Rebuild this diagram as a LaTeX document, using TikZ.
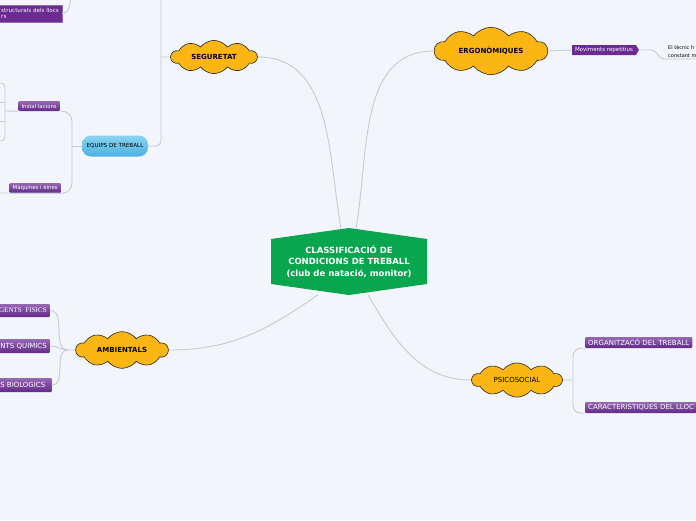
\documentclass[tikz,border=0pt]{standalone}
\usepackage{fontspec}
\setmainfont{DejaVu Sans}
\newfontfamily\agentserif{Liberation Serif}
\usetikzlibrary{arrows.meta,positioning,calc,shapes.geometric,shapes.symbols,shapes.arrows}
\definecolor{Paper}{HTML}{F3F5FD}
\definecolor{Wire}{HTML}{C6CAD4}
\definecolor{Leaf}{HTML}{0AA54F}
\definecolor{Gold}{HTML}{FCB614}
\definecolor{PurpleDk}{HTML}{62298A}
\definecolor{PurpleLt}{HTML}{9668B4}
\definecolor{Plum}{HTML}{6A2C91}
\definecolor{SkyLt}{HTML}{8DD3F1}
\definecolor{SkyDk}{HTML}{49B3E0}

\begin{document}
\begin{tikzpicture}[x=1pt, y=-1pt,
  hub/.style={text=white, minimum width=156pt, minimum height=66pt, inner sep=0pt,
              align=center, font=\fontsize{8.5}{11.5}\selectfont\bfseries},
  topic/.style={cloud, cloud puffs=10, cloud puff arc=105, aspect=2.6,
                fill=Gold, draw=black!85, line width=0.6pt, inner sep=0pt,
                font=\fontsize{7}{8}\selectfont\bfseries},
  equip/.style={rounded corners=9pt, top color=SkyLt, bottom color=SkyDk,
                minimum width=66pt, minimum height=21pt, inner sep=0pt,
                font=\fontsize{5.6}{6}\selectfont},
  sub/.style={rounded corners=1pt, top color=PurpleLt, bottom color=PurpleDk,
              text=white, minimum height=10pt, inner xsep=3pt, inner ysep=0pt,
              font=\fontsize{5.4}{6}\selectfont},
  agent/.style={rounded corners=1pt, top color=PurpleLt, bottom color=PurpleDk,
                text=white, inner xsep=3pt, inner ysep=0pt,
                font=\fontsize{7}{8}\selectfont},
  conn/.style={draw=Wire, line width=0.9pt}
]
  \useasboundingbox (0,0) rectangle (696,520);
  \fill[Paper] (0,0) rectangle (696,520);
  \clip (0,0) rectangle (696,520);

  % main topic and the four groups
  \fill[Leaf] (271,239) -- (349,228) -- (427,239) -- (427,284) -- (349,295) -- (271,284) -- cycle;
  \node[hub] (center) at (349,261.5)
    {CLASSIFICACIÓ DE\\CONDICIONS DE TREBALL\\(club de natació, monitor)};
  \node[topic, minimum width=86pt, minimum height=33pt] (seg) at (214,57) {SEGURETAT};
  \node[topic, minimum width=113pt, minimum height=31pt] (ergo) at (491,51) {ERGONÒMIQUES};
  \node[topic, minimum width=92pt, minimum height=34pt] (amb) at (122,350) {AMBIENTALS};
  \node[topic, minimum width=90pt, minimum height=34pt,
        font=\fontsize{7}{8}\selectfont] (psi) at (517,380) {PSICOSOCIAL};

  % seguretat
  \node[equip] (equips) at (115,146) {EQUIPS DE TREBALL};
  \node[sub, anchor=east] (inst) at (60,106) {Instal·lacions};
  \node[sub, anchor=east] (maq) at (61,188) {Màquines i eines};
  \node[fill=Plum, draw=PurpleLt, text=white, anchor=east, align=left,
        minimum height=17pt, inner xsep=3pt, inner ysep=1pt,
        font=\fontsize{5.6}{6.5}\selectfont] (estr) at (62,13.5) {structurals dels llocs\\rs};

  % ergonomiques
  \node[signal, signal to=east, signal pointer angle=120, fill=Plum, text=white,
        minimum height=10pt, inner xsep=3pt, inner ysep=0pt,
        font=\fontsize{5.5}{6}\selectfont] (mov) at (604,50) {Moviments repetitius};
  \node[anchor=south west, align=left, inner xsep=4pt, inner ysep=1pt,
        font=\fontsize{5}{8}\selectfont] (tec) at (664,59) {El tècnic h\\constant m};

  % ambientals
  \node[agent, anchor=east, minimum height=13pt,
        font=\fontsize{7.1}{8}\selectfont\agentserif] (fis) at (50,310.5) {GENTS\ \ FISICS};
  \node[agent, anchor=east, minimum height=14pt] (qui) at (50,346) {NTS QUIMICS};
  \node[agent, anchor=east, minimum height=14pt, minimum width=58pt] (bio) at (52,385) {S BIOLOGICS};

  % psicosocial
  \node[agent, anchor=west, minimum height=11pt] (org) at (585,342.5) {ORGANITZACÓ DEL TREBALL};
  \node[agent, anchor=west, minimum height=11pt] (car) at (585,407.5) {CARACTERISTIQUES DEL LLOC};

  \coordinate (segj) at (161,57);
  \coordinate (segtop) at (161,-3);
  \coordinate (eqj) at (72,146);
  \coordinate (brk) at (5,111);
  \coordinate (brktop) at (-3,83);
  \coordinate (brkbot) at (-3,141);
  \coordinate (maqend) at (-3,193);
  \coordinate (estrtop) at (71,-3);
  \coordinate (ambj) at (68,350);
  \coordinate (psij) at (573,380);

  \draw[conn] ([xshift=-8pt]center.north) to[out=100, in=0] (seg.east);
  \draw[conn] ([xshift=7pt]center.north) to[out=80, in=180] (ergo.west);
  \draw[conn] ([xshift=-31pt]center.south) to[out=-145, in=0] (amb.east);
  \draw[conn] ([xshift=19pt]center.south) to[out=-60, in=180] (psi.west);

  \draw[conn] (seg.west) -- (segj);
  \draw[conn, rounded corners=5pt] (segtop) |- (equips.east);
  \draw[conn] (estr.east) to[out=0, in=-100] (estrtop);

  \draw[conn] (equips.west) -- (eqj);
  \draw[conn, rounded corners=10pt] (inst.south east) -| (eqj) |- (maq.south east);
  \draw[conn] (maq.south east) -- (maqend);
  \draw[conn] (brk) -- (inst.south west);
  \draw[conn, rounded corners=4pt] (brktop) -| (brk) |- (brkbot);
  \foreach \yy in {102,121}
    \draw[conn] (brk |- 0,\yy) -- (brktop |- 0,\yy);

  \draw[conn] (ergo.east) -- (mov.west);
  \draw[conn] (mov.east) -- ++(12,0) to[out=0, in=180] (tec.south west) -- (tec.south east);

  \draw[conn] (amb.west) -- (ambj);
  \foreach \b in {fis,qui,bio}
    \draw[conn] (ambj) to[out=180, in=0] (\b.east);

  \draw[conn] (psi.east) -- (psij);
  \draw[conn, rounded corners=8pt] (org.south west) -| (psij) |- (car.south west);
\end{tikzpicture}
\end{document}
